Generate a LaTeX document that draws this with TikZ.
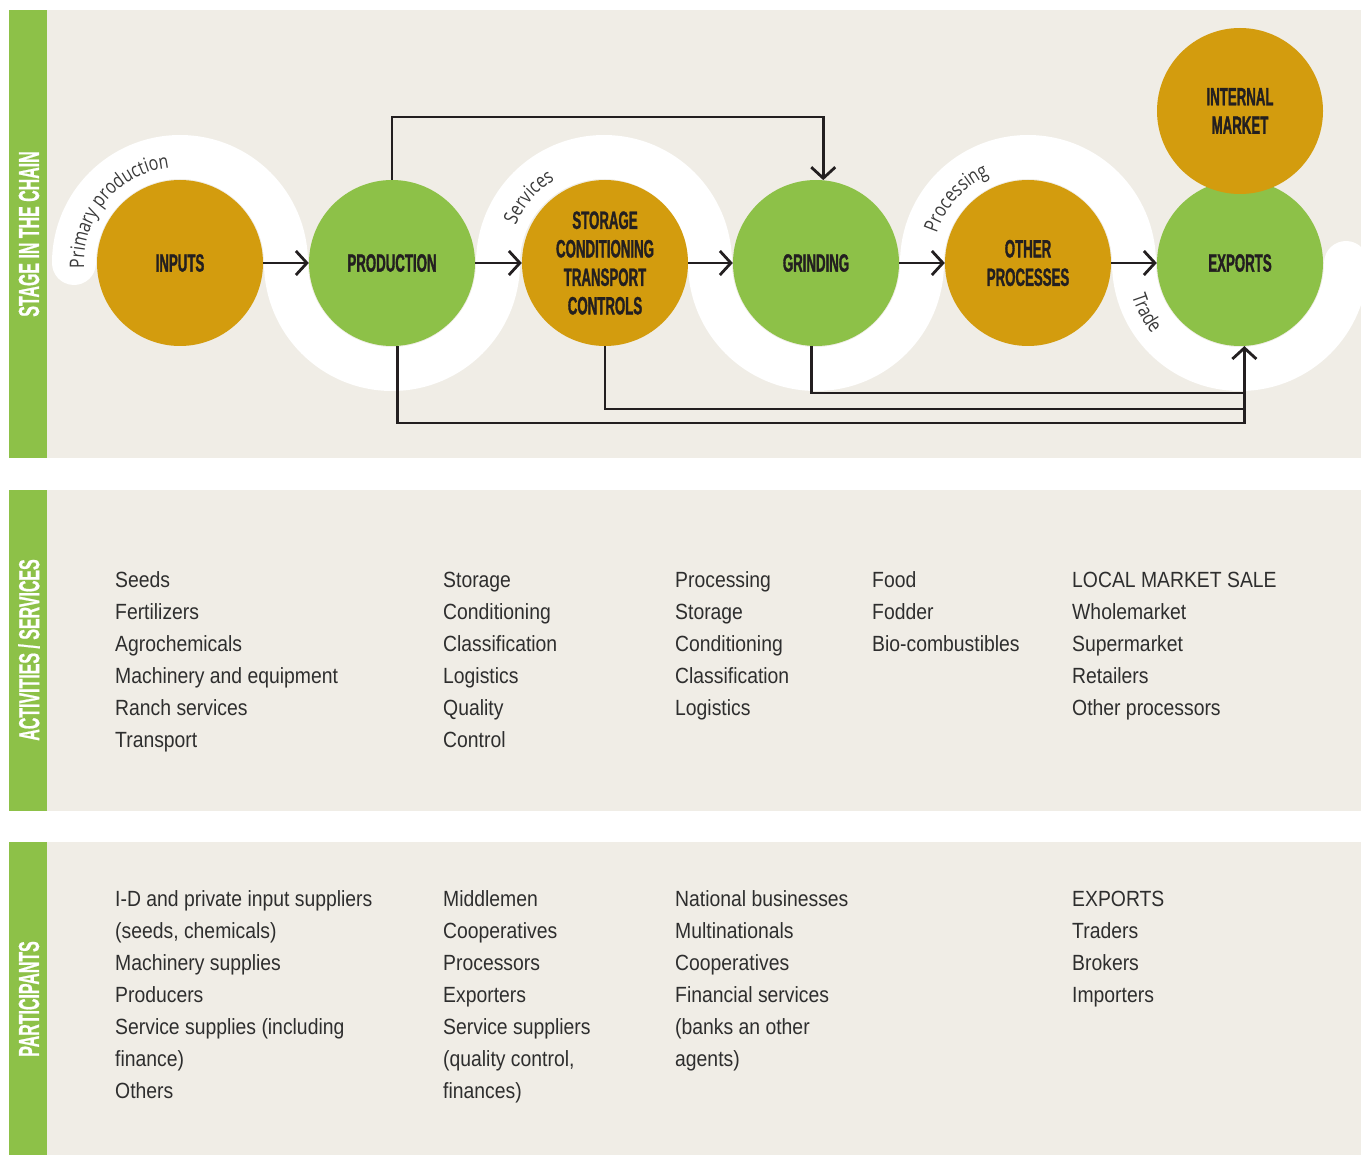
\documentclass[tikz,border=0pt]{standalone}
\usepackage{fontspec}
\setmainfont{Liberation Sans}
\newfontfamily\condA[FakeStretch=0.53,FakeBold=1.2]{Liberation Sans}
\newfontfamily\condB[FakeStretch=0.55,FakeBold=0.6]{Liberation Sans}
\newfontfamily\listf[FakeStretch=0.88]{Liberation Sans}
\newfontfamily\arcf[FakeStretch=0.8]{Open Sans}
\usetikzlibrary{arrows.meta,decorations.text}
\definecolor{leaf}{HTML}{8DC148}
\definecolor{gold}{HTML}{D39C0E}
\definecolor{paper}{HTML}{F0EDE6}
\definecolor{ink}{HTML}{231F20}
\definecolor{txt}{HTML}{2E2E2E}
\definecolor{arcgray}{HTML}{3A3A3A}
\newcommand\arcstyle{\arcf\fontsize{20}{20}\selectfont\color{arcgray}}
\newcommand\itemcol[4]{\foreach \t [count=\i] in {#4} \node[item] (#1-\i) at (#2,{#3+32*(\i-1)}) {\t};}
\tikzset{
  circ/.style={circle, minimum size=166pt, inner sep=0pt, align=center, text=ink,
    font=\condA\bfseries\fontsize{25}{28.5}\selectfont},
  conn/.style={draw=ink, line width=2.8pt},
  arr/.style={conn, -{Straight Barb[length=11pt,width=24pt]}},
  item/.style={anchor=base west, inner sep=0pt, text=txt, font=\listf\fontsize{22}{32}\selectfont},
  strip/.style={rotate=90, text=white, inner sep=0pt, font=\condB\bfseries\fontsize{29}{29}\selectfont},
  band/.style={draw=white, line width=44pt, line cap=round},
  greenstrip/.style={fill=leaf},
  panel/.style={fill=paper}
}
\begin{document}
\begin{tikzpicture}[x=1pt,y=-1pt]
\useasboundingbox (0,0) rectangle (1363,1155);
\fill[white] (0,0) rectangle (1363,1155);
% panels
\fill[panel] (47,10) rectangle (1361,458);
\fill[greenstrip] (9,10) rectangle (47,458);
\fill[panel] (47,490) rectangle (1361,811);
\fill[greenstrip] (9,490) rectangle (47,811);
\fill[panel] (47,842) rectangle (1361,1155);
\fill[greenstrip] (9,842) rectangle (47,1155);
\node[strip] (lab1) at (29,234) {STAGE IN THE CHAIN};
\node[strip] (lab2) at (29,650) {ACTIVITIES / SERVICES};
\node[strip] (lab3) at (29,999) {PARTICIPANTS};
% serpentine band
\begin{scope}
\clip (47,10) rectangle (1361,458);
\draw[band] (74,263)
  arc[start angle=180,end angle=360,radius=106]
  arc[start angle=180,end angle=0,radius=106]
  arc[start angle=180,end angle=360,radius=106]
  arc[start angle=180,end angle=0,radius=106]
  arc[start angle=180,end angle=360,radius=106]
  arc[start angle=180,end angle=0,radius=106];
\end{scope}
% circles
\node[circ, fill=gold] (inp) at (180,263) {INPUTS};
\node[circ, fill=leaf] (prod) at (392,263) {PRODUCTION};
\node[circ, fill=gold] (stor) at (605,263) {STORAGE\\CONDITIONING\\TRANSPORT\\CONTROLS};
\node[circ, fill=leaf] (grind) at (816,263) {GRINDING};
\node[circ, fill=gold] (oth) at (1028,263) {OTHER\\PROCESSES};
\node[circ, fill=leaf] (exp) at (1240,263) {EXPORTS};
\node[circ, fill=gold] (intm) at (1240,111) {INTERNAL\\MARKET};
% band labels
\path[decorate, decoration={text along path, text={|\arcstyle|Primary production}}]
  (inp.center) ++(177:96) arc[start angle=177,end angle=320,radius=96];
\path[decorate, decoration={text along path, text={|\arcstyle|Services}}]
  (stor.center) ++(203:97) arc[start angle=203,end angle=320,radius=97];
\path[decorate, decoration={text along path, text={|\arcstyle|Processing}}]
  (oth.center) ++(198:96) arc[start angle=198,end angle=320,radius=96];
\path[decorate, decoration={text along path, text={|\arcstyle|Trade}}]
  (exp.center) ++(163:113) arc[start angle=163,end angle=90,radius=113];
% arrows
\draw[arr] (inp) -- (prod);
\draw[arr] (prod) -- (stor);
\draw[arr] (stor) -- (grind);
\draw[arr] (grind) -- (oth);
\draw[arr] (oth) -- (exp);
\coordinate (topc) at (600,117);
\draw[arr] (prod.north) |- (topc) -| (grind.85);
\coordinate (b1) at (1000,423);
\draw[arr] (prod.-86.5) |- (b1) -| (exp.-87);
\coordinate (b2) at (1244.3,409);
\draw[conn] (stor.south) |- (b2);
\coordinate (b3) at (1244.3,393);
\draw[conn] (grind.-93.5) |- (b3);
% activities / services
\itemcol{a1}{115}{587}{Seeds,Fertilizers,Agrochemicals,Machinery and equipment,Ranch services,Transport}
\itemcol{a2}{443}{587}{Storage,Conditioning,Classification,Logistics,Quality,Control}
\itemcol{a3}{675}{587}{Processing,Storage,Conditioning,Classification,Logistics}
\itemcol{a4}{872}{587}{Food,Fodder,Bio-combustibles}
\itemcol{a5}{1072}{587}{LOCAL MARKET SALE,Wholemarket,Supermarket,Retailers,Other processors}
% participants
\itemcol{p1}{115}{906}{I-D and private input suppliers,{(seeds, chemicals)},Machinery supplies,Producers,Service supplies (including,finance),Others}
\itemcol{p2}{443}{906}{Middlemen,Cooperatives,Processors,Exporters,Service suppliers,{(quality control,},finances)}
\itemcol{p3}{675}{906}{National businesses,Multinationals,Cooperatives,Financial services,{(banks an other},agents)}
\itemcol{p5}{1072}{906}{EXPORTS,Traders,Brokers,Importers}
\end{tikzpicture}
\end{document}
